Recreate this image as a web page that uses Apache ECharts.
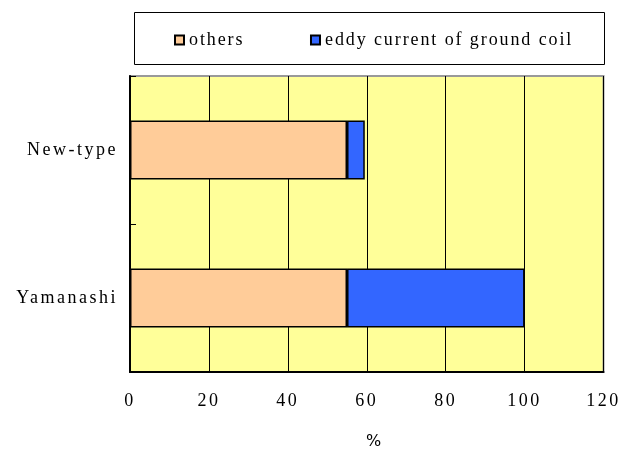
<!DOCTYPE html>
<html>
<head>
<meta charset="utf-8">
<script src="https://cdn.jsdelivr.net/npm/echarts@6/dist/echarts.min.js"></script>
<style>
html,body{margin:0;padding:0;background:#fff}
#c{width:620px;height:462px}
</style>
</head>
<body>
<div id="c"></div>
<script>
var categories = ['Yamanashi', 'New-type'];
var seriesNames = ['others', 'eddy current of ground coil'];
var othersValues = [55, 55];
var eddyValues = [45, 4.5];
var xTicks = { min: 0, max: 120, interval: 20 };

var chart = echarts.init(document.getElementById('c'), null, { renderer: 'canvas' });
var serif = '"Liberation Serif", "Times New Roman", serif';
chart.setOption({
  animation: false,
  backgroundColor: '#ffffff',
  graphic: [{
    type: 'rect', left: 134, top: 12, z: -1,
    shape: { width: 470, height: 52 },
    style: { fill: '#ffffff', stroke: '#000000', lineWidth: 1 }
  }],
  legend: {
    zlevel: 1,
    left: 169, top: 26, itemWidth: 9, itemHeight: 9, itemGap: 77,
    icon: 'rect',
    textStyle: { fontFamily: serif, fontSize: 18, color: '#000' },
    data: seriesNames
  },
  grid: {
    left: 130, right: 16, top: 76, bottom: 90,
    show: true, backgroundColor: '#FFFF99', borderColor: '#999999', borderWidth: 2
  },
  xAxis: {
    type: 'value', min: xTicks.min, max: xTicks.max, interval: xTicks.interval,
    name: '%', nameLocation: 'middle', nameGap: 62,
    nameTextStyle: { fontFamily: '"DejaVu Sans", sans-serif', fontSize: 16, color: '#000', padding: [0, 0, 0, 16] },
    axisLine: { show: true, lineStyle: { color: '#000', width: 2 } },
    axisTick: { show: false },
    axisLabel: { margin: 20, fontFamily: serif, fontSize: 18, color: '#000' },
    splitLine: { show: true, lineStyle: { color: '#000', width: 1 } }
  },
  yAxis: {
    type: 'category', data: categories,
    axisLine: { show: true, lineStyle: { color: '#000', width: 2 } },
    axisTick: { show: true, inside: true, length: 6, lineStyle: { color: '#000' } },
    axisLabel: { margin: 12, fontFamily: serif, fontSize: 18, color: '#000' },
    splitLine: { show: false }
  },
  series: [
    {
      name: seriesNames[0], type: 'bar', stack: 't', barWidth: 59, data: othersValues,
      itemStyle: { color: '#FFCC99', borderColor: '#000', borderWidth: 1.5 }
    },
    {
      name: seriesNames[1], type: 'bar', stack: 't', barWidth: 59, data: eddyValues,
      itemStyle: { color: '#3366FF', borderColor: '#000', borderWidth: 1.5 }
    }
  ]
});
function applySpacing() {
  var painter = chart.getZr().painter;
  if (!painter) return;
  var layers = painter.getLayers ? painter.getLayers() : {};
  Object.keys(layers).forEach(function (k) {
    var layer = layers[k];
    var ctx = layer && layer.ctx;
    if (ctx && ('letterSpacing' in ctx)) {
      ctx.letterSpacing = (+k === 1) ? '1.9px' : '2.5px';
    }
  });
  if (painter.refresh) painter.refresh(true);
}
applySpacing();
setTimeout(applySpacing, 50);
</script>
</body>
</html>
